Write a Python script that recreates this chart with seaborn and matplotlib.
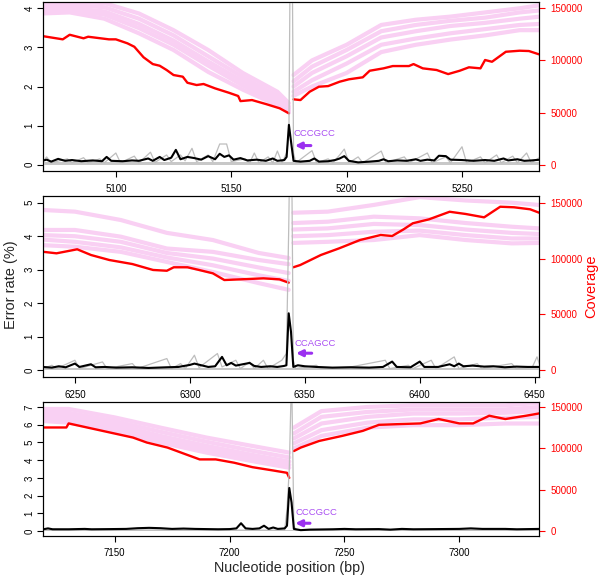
import numpy as np
import matplotlib
matplotlib.use("Agg")
import matplotlib.pyplot as plt
import seaborn as sns

nan = np.nan

# ---------------- Panel 1 ----------------
p1_black_pos = [5068, 5070, 5072, 5075, 5078, 5081, 5085, 5090, 5094, 5096, 5098, 5103, 5107, 5110, 5114, 5116, 5119, 5121, 5124, 5126,
                5128, 5131, 5134, 5137, 5140, 5143, 5145, 5147, 5149, 5151, 5154, 5157, 5161, 5165, 5168, 5170, 5173, 5174, 5175, 5176,
                5177, 5180, 5184, 5186, 5188, 5192, 5195, 5197, 5199, 5201, 5205, 5210, 5214, 5216, 5218, 5222, 5226, 5230, 5232, 5235,
                5238, 5240, 5243, 5245, 5250, 5255, 5260, 5264, 5268, 5270, 5274, 5277, 5280, 5284]
p1_black = [0.10, 0.13, 0.08, 0.15, 0.10, 0.12, 0.09, 0.11, 0.09, 0.20, 0.10, 0.09, 0.11, 0.10, 0.16, 0.10, 0.20, 0.12, 0.18, 0.38,
            0.14, 0.20, 0.17, 0.13, 0.22, 0.14, 0.28, 0.20, 0.24, 0.13, 0.17, 0.11, 0.13, 0.10, 0.16, 0.10, 0.12, 0.20, 1.02, 0.55,
            0.10, 0.08, 0.10, 0.16, 0.08, 0.09, 0.12, 0.16, 0.22, 0.10, 0.06, 0.08, 0.10, 0.14, 0.09, 0.11, 0.10, 0.14, 0.10, 0.13,
            0.11, 0.23, 0.22, 0.13, 0.12, 0.10, 0.12, 0.10, 0.16, 0.11, 0.14, 0.10, 0.11, 0.13]
p1_gray_pos = [5068, 5070, 5072, 5079, 5081, 5086, 5088, 5093, 5095, 5100, 5102, 5108, 5110, 5115, 5117, 5122, 5124, 5128, 5130, 5133,
               5135, 5140, 5142, 5145, 5148, 5150, 5156, 5158, 5160, 5162, 5166, 5168, 5170, 5172, 5174, 5175, 5176, 5177, 5178, 5185,
               5187, 5192, 5194, 5197, 5199, 5201, 5205, 5207, 5215, 5217, 5225, 5227, 5235, 5237, 5243, 5245, 5250, 5252, 5258, 5260,
               5265, 5267, 5272, 5274, 5278, 5280, 5284]
p1_gray = [0.05, 0.20, 0.05, 0.15, 0.05, 0.18, 0.05, 0.15, 0.05, 0.30, 0.05, 0.22, 0.05, 0.32, 0.06, 0.25, 0.08, 0.25, 0.10, 0.42,
           0.08, 0.25, 0.08, 0.53, 0.53, 0.08, 0.15, 0.05, 0.30, 0.05, 0.20, 0.05, 0.35, 0.05, 0.30, 0.80, 9.0, 0.30, 0.05, 0.36,
           0.05, 0.15, 0.05, 0.25, 0.40, 0.05, 0.20, 0.05, 0.35, 0.05, 0.20, 0.05, 0.30, 0.05, 0.20, 0.05, 0.46, 0.05, 0.20, 0.05,
           0.25, 0.05, 0.22, 0.05, 0.30, 0.05, 0.20]
p1_floor_pos = [5068, 5284]
p1_floor = [0.08, 0.08]
p1_red_pos = [5068, 5077, 5080, 5086, 5088, 5097, 5100, 5105, 5108, 5112, 5116, 5119, 5122, 5125, 5129, 5131, 5135, 5138, 5143, 5149,
              5153, 5154, 5159, 5165, 5171, 5175, 5176, 5177, 5180, 5184, 5188, 5192, 5197, 5201, 5207, 5210, 5216, 5220, 5227, 5229,
              5233, 5239, 5244, 5249, 5253, 5258, 5260, 5263, 5269, 5275, 5279, 5283, 5284]
p1_red = [123.4, 120.2, 124.6, 121.2, 122.7, 120.2, 120.2, 116.4, 113.1, 103.0, 96.5, 94.9, 90.8, 86.0, 84.4, 78.6, 76.4, 77.4, 73.2, 69.0,
          65.9, 61.0, 62.0, 58.2, 54.1, 49.3, nan, 62.7, 62.0, 70.0, 74.8, 75.4, 79.6, 81.9, 83.8, 90.1, 92.4, 94.6, 94.6, 96.5,
          92.4, 90.8, 86.9, 90.1, 93.4, 92.4, 100.4, 98.7, 108.3, 109.3, 109.0, 106.1, 105.5]
p1_pink_pos = [5068, 5080, 5095, 5110, 5125, 5140, 5155, 5170, 5175, 5176, 5177, 5185, 5200, 5215, 5230, 5245, 5260, 5275, 5284]
p1_pink_a = [156, 156, 155, 145, 129, 110, 88, 70, 59, nan, 86, 100, 115, 134, 139, 142, 146, 150, 153]
p1_pink_b = [153, 153, 151, 140, 124, 104, 84, 66, 56, nan, 80, 94, 110, 128, 134, 138, 141, 146, 148]
p1_pink_c = [150, 150, 147, 135, 119, 99, 80, 63, 54, nan, 75, 88, 104, 122, 128, 133, 136, 140, 142]
p1_pink_d = [148, 148, 144, 131, 115, 95, 76, 60, 52, nan, 70, 81, 97, 115, 121, 126, 130, 134, 135]
p1_pink_e = [145, 146, 140, 126, 110, 89, 72, 57, 50, nan, 66, 75, 88, 108, 115, 120, 124, 129, 129]
p1_xticks = [5100, 5150, 5200, 5250]
p1_motif = "CCCGCC"

# ---------------- Panel 2 ----------------
p2_black_pos = [6236, 6240, 6243, 6246, 6250, 6252, 6257, 6259, 6263, 6268, 6275, 6282, 6290, 6295, 6300, 6302, 6305, 6308, 6311, 6314,
                6316, 6318, 6320, 6323, 6326, 6328, 6331, 6335, 6338, 6341, 6342, 6343, 6344, 6345, 6347, 6350, 6355, 6362, 6370, 6378,
                6384, 6388, 6390, 6396, 6400, 6402, 6408, 6413, 6415, 6417, 6419, 6423, 6428, 6432, 6437, 6442, 6447, 6452]
p2_black = [0.10, 0.08, 0.12, 0.09, 0.20, 0.10, 0.18, 0.09, 0.10, 0.08, 0.09, 0.07, 0.09, 0.10, 0.16, 0.20, 0.15, 0.10, 0.12, 0.40,
            0.15, 0.22, 0.14, 0.18, 0.22, 0.13, 0.10, 0.12, 0.10, 0.13, 0.15, 1.70, 1.15, 0.10, 0.15, 0.12, 0.10, 0.08, 0.09, 0.08,
            0.10, 0.26, 0.10, 0.09, 0.26, 0.10, 0.10, 0.18, 0.12, 0.20, 0.12, 0.14, 0.11, 0.12, 0.09, 0.11, 0.10, 0.10]
p2_gray_pos = [6236, 6240, 6242, 6250, 6252, 6262, 6264, 6275, 6277, 6290, 6292, 6296, 6298, 6302, 6304, 6312, 6314, 6320, 6322, 6326,
               6328, 6332, 6334, 6340, 6342, 6343, 6344, 6345, 6346, 6355, 6357, 6370, 6385, 6387, 6395, 6397, 6405, 6407, 6415, 6417,
               6425, 6427, 6440, 6442, 6449, 6451, 6452]
p2_gray = [0.05, 0.15, 0.05, 0.30, 0.05, 0.25, 0.05, 0.20, 0.05, 0.35, 0.05, 0.20, 0.05, 0.45, 0.08, 0.50, 0.10, 0.30, 0.05, 0.25,
           0.05, 0.30, 0.05, 0.30, 0.50, 4.2, 9.0, 0.30, 0.05, 0.15, 0.05, 0.10, 0.30, 0.05, 0.15, 0.05, 0.30, 0.05, 0.40, 0.05,
           0.20, 0.05, 0.20, 0.05, 0.10, 0.40, 0.20]
p2_floor_pos = [6236, 6452]
p2_floor = [0.08, 0.08]
p2_red_pos = [6236, 6242, 6251, 6257, 6265, 6275, 6284, 6290, 6293, 6299, 6304, 6310, 6315, 6322, 6332, 6339, 6343, 6344, 6345, 6348,
              6357, 6365, 6374, 6383, 6388, 6393, 6397, 6404, 6413, 6420, 6428, 6435, 6441, 6448, 6452]
p2_red = [106.1, 104.7, 108.3, 103.2, 98.7, 95.1, 89.8, 89.1, 92.2, 92.2, 89.8, 86.8, 80.8, 81.4, 82.3, 81.4, 78.4, nan, 92.2, 94.2,
          103.2, 109.2, 116.6, 121.1, 120.2, 126.2, 131.6, 135.1, 141.9, 139.9, 136.9, 146.4, 145.9, 144.1, 141.0]
p2_pink_pos = [6236, 6250, 6270, 6290, 6310, 6330, 6343, 6344, 6345, 6360, 6380, 6400, 6420, 6440, 6452]
p2_pink_a = [143.5, 142, 134.5, 123, 116.6, 105, 100.5, nan, 141, 142, 148, 155, 152, 150, 148]
p2_pink_b = [125.6, 125.6, 119.6, 109, 106, 98.7, 95, nan, 131.8, 133, 137.5, 136, 131.8, 128.5, 127]
p2_pink_c = [121, 120, 115, 105, 100, 92, 87, nan, 126, 127, 131, 130, 126, 123, 122]
p2_pink_d = [117, 115, 110, 101, 94, 85, 80, nan, 120, 121, 124, 125, 121, 118, 118]
p2_pink_e = [112, 110.6, 106, 97, 88, 78, 72, nan, 114, 115, 116.6, 121, 116.6, 113.6, 114]
p2_xticks = [6250, 6300, 6350, 6400, 6450]
p2_motif = "CCAGCC"

# ---------------- Panel 3 ----------------
p3_black_pos = [7119, 7121, 7123, 7130, 7137, 7140, 7148, 7155, 7160, 7165, 7170, 7175, 7180, 7185, 7190, 7195, 7200, 7203, 7205, 7207,
                7210, 7213, 7215, 7217, 7219, 7221, 7224, 7225, 7226, 7227, 7228, 7231, 7235, 7245, 7250, 7255, 7265, 7270, 7275, 7280,
                7290, 7300, 7305, 7310, 7320, 7325, 7335]
p3_black = [0.10, 0.15, 0.10, 0.10, 0.12, 0.10, 0.11, 0.12, 0.16, 0.18, 0.16, 0.12, 0.14, 0.12, 0.11, 0.10, 0.11, 0.15, 0.44, 0.15,
            0.12, 0.15, 0.30, 0.12, 0.20, 0.12, 0.15, 0.30, 2.43, 1.60, 0.12, 0.05, 0.08, 0.10, 0.12, 0.10, 0.11, 0.08, 0.12, 0.10,
            0.11, 0.12, 0.15, 0.12, 0.12, 0.10, 0.12]
p3_gray_pos = [7119, 7140, 7165, 7200, 7224, 7225, 7226, 7227, 7228, 7229, 7260, 7300, 7335]
p3_gray = [0.04, 0.04, 0.06, 0.05, 0.05, 1.2, 3.5, 9.0, 0.3, 0.04, 0.04, 0.05, 0.05]
p3_floor_pos = [7119, 7335]
p3_floor = [0.08, 0.08]
p3_red_pos = [7119, 7129, 7130, 7138, 7148, 7158, 7164, 7173, 7181, 7187, 7194, 7202, 7210, 7219, 7225, 7226, 7227, 7228, 7231, 7239,
              7249, 7258, 7265, 7274, 7283, 7291, 7300, 7306, 7313, 7320, 7329, 7335]
p3_red = [125.2, 125.2, 130.1, 125.2, 119.1, 113.0, 107.0, 100.9, 92.7, 86.6, 86.6, 82.6, 77.2, 73.2, 70.4, 64.3, nan, 96.7, 100.9, 108.9,
          115.0, 121.1, 128.4, 129.3, 130.1, 135.4, 130.1, 130.1, 139.4, 135.4, 139.4, 142.3]
p3_pink_pos = [7119, 7130, 7150, 7170, 7190, 7210, 7226, 7227, 7228, 7240, 7260, 7280, 7300, 7320, 7335]
p3_pink_a = [147.6, 147.6, 137.4, 125, 113, 102.8, 94.8, nan, 125, 145, 150, 152, 152, 152, 155]
p3_pink_b = [143, 143, 133, 120, 108, 97, 89, nan, 118, 138, 144, 147, 147, 147, 150]
p3_pink_c = [139, 139, 129, 115, 103, 92, 84, nan, 112, 130, 138, 142, 142, 143, 145]
p3_pink_d = [136, 135, 125, 111, 99, 88, 80, nan, 106, 122, 131, 135, 135, 137, 138]
p3_pink_e = [133, 131, 121, 107, 94.8, 84.5, 76.5, nan, 100, 115, 125, 128, 128, 130, 130]
p3_xticks = [7150, 7200, 7250, 7300]
p3_motif = "CCCGCC"

cov_ticks = [0, 50000, 100000, 150000]

# ---------------- styling ----------------
sns.set_theme(style="ticks")
plt.rcParams["font.family"] = ["Liberation Sans", "DejaVu Sans"]
plt.rcParams["axes.edgecolor"] = "black"
plt.rcParams["axes.linewidth"] = 0.8
plt.rcParams["xtick.color"] = "black"
plt.rcParams["ytick.color"] = "black"

PINK = "#f9d0f3"
PURPLE = "#9b30f0"


def draw(ax, xs, ys, scale=1.0, **kw):
    x = np.asarray(xs, float)
    y = np.asarray(ys, float) * scale
    gaps = list(np.where(np.isnan(y))[0])
    bounds = [-1] + gaps + [len(y)]
    for a, b in zip(bounds[:-1], bounds[1:]):
        if b - a - 1 >= 2:
            sns.lineplot(x=x[a + 1:b], y=y[a + 1:b], ax=ax, estimator=None,
                         sort=False, legend=False, **kw)


fig = plt.figure(figsize=(6.0, 5.81), dpi=100)
W, H = 600.0, 581.0
left, right = 42.7, 539.3
boxes = [(2.0, 171.0), (196.0, 377.0), (402.0, 536.0)]

panels = [
    dict(bp=p1_black_pos, b=p1_black, gp=p1_gray_pos, g=p1_gray, fp=p1_floor_pos, f=p1_floor,
         rp=p1_red_pos, r=p1_red, pp=p1_pink_pos, pk=[p1_pink_a, p1_pink_b, p1_pink_c, p1_pink_d, p1_pink_e],
         xt=p1_xticks, motif=p1_motif, xlim=(5068.3, 5283.5), top=4,
         txt=(5177.0, 0.80), arr=(5184.5, 5177.6, 0.49)),
    dict(bp=p2_black_pos, b=p2_black, gp=p2_gray_pos, g=p2_gray, fp=p2_floor_pos, f=p2_floor,
         rp=p2_red_pos, r=p2_red, pp=p2_pink_pos, pk=[p2_pink_a, p2_pink_b, p2_pink_c, p2_pink_d, p2_pink_e],
         xt=p2_xticks, motif=p2_motif, xlim=(6236.0, 6452.0), top=5,
         txt=(6345.5, 0.81), arr=(6353.0, 6346.2, 0.51)),
    dict(bp=p3_black_pos, b=p3_black, gp=p3_gray_pos, g=p3_gray, fp=p3_floor_pos, f=p3_floor,
         rp=p3_red_pos, r=p3_red, pp=p3_pink_pos, pk=[p3_pink_a, p3_pink_b, p3_pink_c, p3_pink_d, p3_pink_e],
         xt=p3_xticks, motif=p3_motif, xlim=(7118.7, 7334.8), top=7,
         txt=(7228.6, 1.04), arr=(7235.0, 7228.6, 0.44)),
]

for (ytop, ybot), P in zip(boxes, panels):
    ax = fig.add_axes([left / W, 1 - ybot / H, (right - left) / W, (ybot - ytop) / H])
    ax2 = ax.twinx()
    ax.set_zorder(ax2.get_zorder() + 1)
    ax.patch.set_visible(False)

    # coverage (right axis)
    for series in P["pk"]:
        draw(ax2, P["pp"], series, scale=1000.0, color=PINK, linewidth=3.0)
    draw(ax2, P["rp"], P["r"], scale=1000.0, color="red", linewidth=1.7)
    ax2.set_ylim(-6000, 156000)
    ax2.set_yticks(cov_ticks)
    ax2.set_yticklabels([str(v) for v in cov_ticks])
    ax2.tick_params(axis="y", colors="red", labelsize=7, length=4, width=0.8, pad=4, direction="out")
    ax2.set_ylabel("")

    # error rates (left axis)
    ax.fill_between(P["fp"], 0, P["f"], color="#c8c8c8", linewidth=0)
    draw(ax, P["gp"], P["g"], color="#bdbdbd", linewidth=0.9)
    draw(ax, P["bp"], P["b"], color="black", linewidth=1.5)

    top = P["top"]
    ax.set_xlim(*P["xlim"])
    ax.set_ylim(-0.04 * top, 1.04 * top)
    ax.set_yticks(list(range(0, top + 1)))
    ax.set_xticks(P["xt"])
    ax.tick_params(axis="both", direction="out", length=4, width=0.8, labelsize=7)
    ax.tick_params(axis="x", pad=5)
    ax.tick_params(axis="y", pad=2)
    for lbl in ax.get_yticklabels():
        lbl.set_rotation(90)
        lbl.set_va("center")
    ax.set_xlabel("")
    ax.set_ylabel("")
    for s in ax.spines.values():
        s.set_visible(True)
        s.set_color("black")
        s.set_linewidth(0.8)

    tx, ty = P["txt"]
    ax.text(tx, ty, P["motif"], color=PURPLE, fontsize=6.8, ha="left", va="center", alpha=0.85)
    x0, x1, ya = P["arr"]
    ax.annotate("", xy=(x1, ya), xytext=(x0, ya),
                arrowprops=dict(arrowstyle="-|>", color=PURPLE, lw=2.2, mutation_scale=9,
                                shrinkA=0, shrinkB=0))

fig.text(11 / W, 1 - 285 / H, "Error rate (%)", rotation=90, ha="center", va="center", fontsize=10.5)
fig.text(591 / W, 1 - 286 / H, "Coverage", rotation=90, ha="center", va="center", fontsize=10.5, color="red")
fig.text(290 / W, 1 - 568 / H, "Nucleotide position (bp)", ha="center", va="center", fontsize=10.3)

fig.savefig("out.png", dpi=100)
